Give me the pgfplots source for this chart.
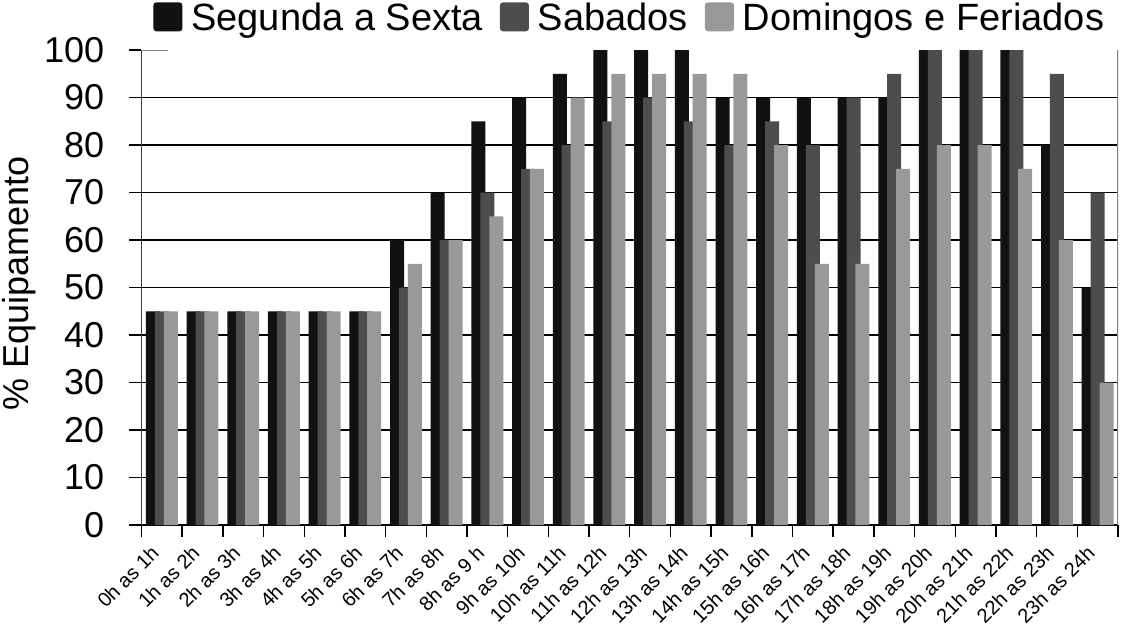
\documentclass[border=0pt]{standalone}
\usepackage{fontspec}
\setmainfont{Liberation Sans}
\usepackage{pgfplots}
\usepackage{pgfplotstable}
\pgfplotsset{compat=1.18}
\definecolor{cA}{HTML}{111111}
\definecolor{cB}{HTML}{4D4D4D}
\definecolor{cC}{HTML}{999999}
\pgfplotstableread{
x a b c
0 45 45 45
1 45 45 45
2 45 45 45
3 45 45 45
4 45 45 45
5 45 45 45
6 60 50 55
7 70 60 60
8 85 70 65
9 90 75 75
10 95 80 90
11 100 85 95
12 100 90 95
13 100 85 95
14 90 80 95
15 90 85 80
16 90 80 55
17 90 90 55
18 90 95 75
19 100 100 80
20 100 100 80
21 100 100 75
22 80 95 60
23 50 70 30
}\data
\begin{document}
\begin{tikzpicture}
\begin{axis}[
  scale only axis, width=488.25pt, height=237.5pt,
  xmin=-0.5, xmax=23.5, ymin=0, ymax=100,
  ybar, bar width=0.344,
  axis x line*=bottom, axis y line*=left,
  x axis line style={black, line width=0.8pt},
  y axis line style={black!75, line width=0.9pt},
  ytick={0,10,...,90}, extra y ticks={100}, extra y tick style={grid=none},
  ymajorgrids, grid style={black, line width=0.7pt},
  xtick={-0.5,0.5,...,23.5}, xticklabels={},
  extra x ticks={0,1,...,23},
  extra x tick labels={0h as 1h,1h as 2h,2h as 3h,3h as 4h,4h as 5h,5h as 6h,6h as 7h,7h as 8h,8h as 9 h,9h as 10h,10h as 11h,11h as 12h,12h as 13h,13h as 14h,14h as 15h,15h as 16h,16h as 17h,17h as 18h,18h as 19h,19h as 20h,20h as 21h,21h as 22h,22h as 23h,23h as 24h},
  extra x tick style={major tick length=0pt, xticklabel style={xshift=-6pt, yshift=-8pt, rotate=45, anchor=north east, font=\fontsize{10}{12}\selectfont, inner sep=1pt}},
  tick align=outside, major tick length=6pt,
  tick style={black, line width=0.7pt},
  /pgf/number format/assume math mode=true,
  yticklabel style={font=\fontsize{18}{20}\selectfont, inner sep=0pt, xshift=-12.5pt},
  ylabel={\% Equipamento},
  ylabel style={font=\fontsize{18}{20}\selectfont, at={(axis description cs:-0.1255,0.508)}, anchor=center},
  legend columns=3,
  legend style={draw=none, fill=none, at={(0.5,1)}, anchor=south, yshift=6pt,
    font=\fontsize{19}{21}\selectfont, inner sep=0pt,
    nodes={inner xsep=1pt},
    /tikz/every odd column/.append style={column sep=3.5pt},
    /tikz/every even column/.append style={column sep=7.5pt}},
  legend image code/.code={\fill[#1, rounded corners=1.5pt] (0pt,-6.5pt) rectangle (14.5pt,8pt);},
]
\addplot[fill=cA, draw=none, bar shift=-0.22] table[x=x, y=a] {\data};
\addplot[fill=cB, draw=none, bar shift=0] table[x=x, y=b] {\data};
\addplot[fill=cC, draw=none, bar shift=0.22] table[x=x, y=c] {\data};
\legend{Segunda a Sexta, Sabados, Domingos e Feriados}
\draw[black!50, line width=0.9pt] (rel axis cs:1,0) -- (rel axis cs:1,1) -- ++(-5pt,0);
\draw[black!50, line width=0.9pt] (rel axis cs:0,1) -- ++(3pt,0);
\end{axis}
\pgfresetboundingbox
\useasboundingbox (-70.75pt,-51.5pt) rectangle (490.25pt,262.5pt);
\end{tikzpicture}
\end{document}
